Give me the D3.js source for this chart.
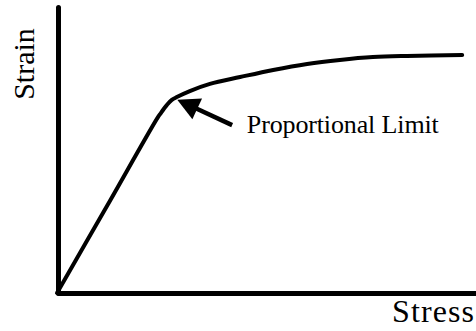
<!DOCTYPE html>
<html>
<head>
<meta charset="utf-8">
<script src="https://cdn.jsdelivr.net/npm/d3@7"></script>
<style>
  html, body { margin: 0; padding: 0; background: #fff; }
  svg { display: block; }
</style>
</head>
<body>
<div id="chart"></div>
<script>
// Stress (x) vs strain (y) curve, arbitrary units 0..100
const stress = [0, 12.0, 24.1, 24.8, 25.3, 26.2, 27.4, 28.6, 31.7, 36.5, 43.7, 51.6, 59.7, 67.5, 75.4, 83.5, 96.7];
const strain = [0, 30.6, 61.5, 62.9, 64.0, 65.7, 67.5, 68.5, 70.6, 73.1, 75.5, 78.0, 80.1, 81.5, 82.5, 82.9, 83.2];
// annotation: arrow tail -> tip, label position
const arrowTip = [28.7, 67.6];
const arrowTail = [41.8, 58.7];
const labelPos = [45.3, 55.9];
const labelText = "Proportional Limit";
const xLabel = "Stress";
const yLabel = "Strain";

const W = 476, H = 331;
const svg = d3.select("#chart").append("svg").attr("width", W).attr("height", H);

const x = d3.scaleLinear().domain([0, 100]).range([57, 476]);
const y = d3.scaleLinear().domain([0, 100]).range([293, 7]);

// axes (no ticks)
const gx = svg.append("g").attr("transform", `translate(0,${y(0)})`)
  .call(d3.axisBottom(x).ticks(0).tickSizeOuter(0));
const gy = svg.append("g").attr("transform", `translate(${x(0) + 1},0)`)
  .call(d3.axisLeft(y).ticks(0).tickSizeOuter(0));
[gx, gy].forEach(g => g.select(".domain")
  .attr("stroke", "#000").attr("stroke-width", 5).attr("stroke-linecap", "round"));
gx.select(".domain").attr("stroke-linecap", "butt");

// curve
const pts = stress.map((s, i) => [s, strain[i]]);
const lineGen = d3.line().x(d => x(d[0])).y(d => y(d[1])).curve(d3.curveCatmullRom.alpha(0.5));
svg.append("path").datum(pts)
  .attr("d", lineGen)
  .attr("fill", "none").attr("stroke", "#000").attr("stroke-width", 4)
  .attr("stroke-linejoin", "round").attr("stroke-linecap", "round");

// arrow
const tx = x(arrowTip[0]), ty = y(arrowTip[1]);
const sx = x(arrowTail[0]), sy = y(arrowTail[1]);
const ang = Math.atan2(sy - ty, sx - tx);
const headLen = 22, headHalf = 11.5;
const bx = tx + headLen * Math.cos(ang), by = ty + headLen * Math.sin(ang);
const px = -Math.sin(ang), py = Math.cos(ang);
svg.append("line")
  .attr("x1", bx - 4 * Math.cos(ang)).attr("y1", by - 4 * Math.sin(ang))
  .attr("x2", sx).attr("y2", sy)
  .attr("stroke", "#000").attr("stroke-width", 4.5);
svg.append("path")
  .attr("d", `M${tx},${ty}L${bx + headHalf * px},${by + headHalf * py}L${bx - headHalf * px},${by - headHalf * py}Z`)
  .attr("fill", "#000");

// label
svg.append("text")
  .attr("x", x(labelPos[0])).attr("y", y(labelPos[1]))
  .attr("font-family", "Liberation Serif, Times New Roman, serif")
  .attr("font-size", 26)
  .attr("textLength", 192).attr("lengthAdjust", "spacing")
  .attr("fill", "#000")
  .text(labelText);

// axis titles
svg.append("text")
  .attr("x", 392).attr("y", 322)
  .attr("font-family", "Liberation Serif, Times New Roman, serif")
  .attr("font-size", 32)
  .attr("textLength", 82).attr("lengthAdjust", "spacing")
  .attr("fill", "#000")
  .text(xLabel);

svg.append("text")
  .attr("transform", "translate(34,64) rotate(-90)")
  .attr("text-anchor", "middle")
  .attr("font-family", "Liberation Serif, Times New Roman, serif")
  .attr("font-size", 30)
  .attr("fill", "#000")
  .text(yLabel);
</script>
</body>
</html>
